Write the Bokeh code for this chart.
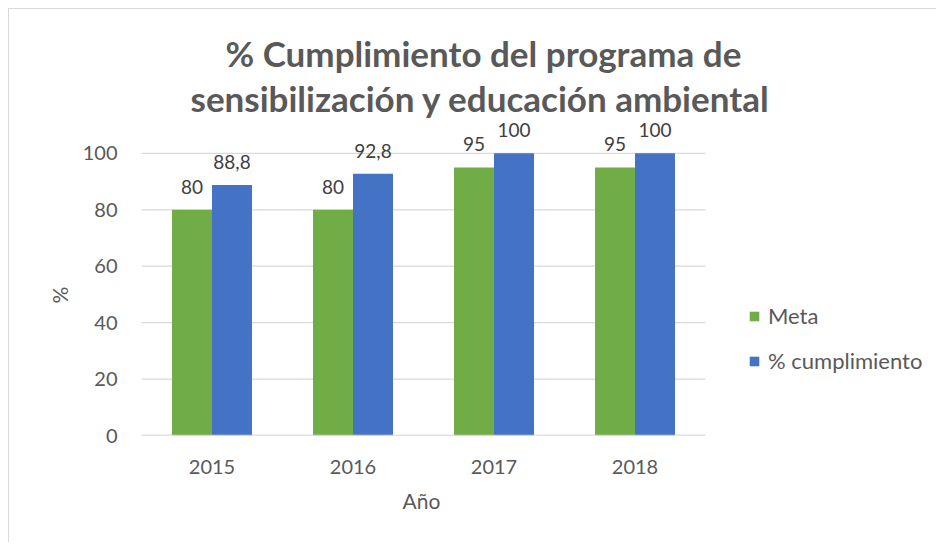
from bokeh.plotting import figure
from bokeh.models import ColumnDataSource, Range1d, Legend, LegendItem, FixedTicker, Title
from bokeh.core.properties import value
from bokeh.embed import file_html
from bokeh.resources import INLINE

years = ["2015", "2016", "2017", "2018"]
meta = [80, 80, 95, 95]
cumplimiento = [88.8, 92.8, 100, 100]
meta_labels = ["80", "80", "95", "95"]
cump_labels = ["88,8", "92,8", "100", "100"]
y_ticks = [0, 20, 40, 60, 80, 100]

FONT = "Lato"
GREEN = "#70AD47"
BLUE = "#4472C4"
TXT = "#595959"
GRID = "#d9d9d9"

W, H = 928, 534
FL, FB, FT, FR = 132, 426, 110, 921      # frame edges in figure px
PX_CAT = 141.0
frame_w = FR - FL

n = len(years)
centers = [i + 0.5 for i in range(n)]
bw = 40 / PX_CAT
src = ColumnDataSource(dict(
    xm=[c - bw / 2 for c in centers], xc=[c + bw / 2 for c in centers],
    meta=meta, cump=cumplimiento, ml=meta_labels, cl=cump_labels))

p = figure(width=W, height=H, x_range=Range1d(0, frame_w / PX_CAT), y_range=Range1d(0, 112),
           output_backend="svg", toolbar_location=None,
           min_border_left=FL, min_border_right=W - FR,
           min_border_top=FT, min_border_bottom=H - FB)
p.styles = {"margin-left": "8px", "margin-top": "8px",
            "border-top": "1px solid #d9d9d9", "border-left": "1px solid #d9d9d9"}
p.outline_line_color = None
p.xgrid.grid_line_color = None
p.ygrid.grid_line_color = None

# gridlines limited to the category span
p.segment(x0=[0] * len(y_ticks), x1=[n] * len(y_ticks), y0=y_ticks, y1=y_ticks,
          line_color=GRID, line_width=1.3)

r1 = p.vbar(x="xm", top="meta", width=bw, source=src, fill_color=GREEN, line_color=None)
r2 = p.vbar(x="xc", top="cump", width=bw, source=src, fill_color=BLUE, line_color=None)
p.segment(x0=[0], x1=[n], y0=[0], y1=[0], line_color=GRID, line_width=1.6)

for xcol, tcol, ycol in (("xm", "ml", "meta"), ("xc", "cl", "cump")):
    p.text(x=xcol, y=ycol, text=tcol, source=src,
           text_align="center", text_baseline="middle", y_offset=-23,
           text_font=value(FONT), text_font_size="19px", text_color="#404040")

p.yaxis.ticker = FixedTicker(ticks=y_ticks)
p.xaxis.ticker = FixedTicker(ticks=centers)
p.xaxis.major_label_overrides = {c: y for c, y in zip(centers, years)}

for ax in (p.xaxis, p.yaxis):
    ax.axis_line_color = None
    ax.major_tick_line_color = None
    ax.minor_tick_line_color = None
    ax.major_label_text_font = FONT
    ax.major_label_text_font_size = "20px"
    ax.major_label_text_color = TXT

p.yaxis.major_label_standoff = 18
p.xaxis.major_label_standoff = 18

legend = Legend(items=[LegendItem(label="Meta", renderers=[r1]),
                       LegendItem(label="% cumplimiento", renderers=[r2])],
                location=(607, 61), orientation="vertical")
legend.glyph_width = 12
legend.glyph_height = 12
legend.label_text_font = FONT
legend.label_text_font_size = "22px"
legend.label_text_color = TXT
legend.label_height = 26
legend.spacing = 18
legend.padding = 0
legend.margin = 0
legend.border_line_color = None
legend.background_fill_alpha = 0
legend.label_standoff = 8
p.add_layout(legend, "center")

def style_title(t, size, bold):
    t.text_font = FONT
    t.text_font_size = size
    t.text_font_style = "bold" if bold else "normal"
    t.text_color = TXT
    t.align = "left"

# outer (upper) title line
p.title.text = "% Cumplimiento del programa de"
style_title(p.title, "35px", True)
p.title.offset = 84
p.title.standoff = 0
# inner (lower) title line, added later -> closer to the plot
t2 = Title(text="sensibilización y educación ambiental", offset=49, standoff=2)
style_title(t2, "35px", True)
p.add_layout(t2, "above")

t_x = Title(text="Año", offset=261, standoff=19)
style_title(t_x, "21px", False)
p.add_layout(t_x, "below")

t_y = Title(text="%", offset=132, standoff=15)
style_title(t_y, "21px", False)
p.add_layout(t_y, "left")

open("out.html", "w").write(file_html(p, INLINE))
